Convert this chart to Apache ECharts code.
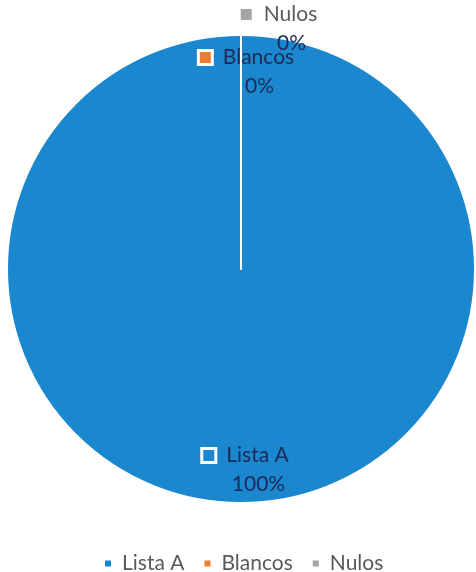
<!DOCTYPE html>
<html>
<head>
<meta charset="utf-8">
<script src="https://cdn.jsdelivr.net/npm/echarts@6/dist/echarts.min.js"></script>
<style>html,body{margin:0;padding:0;background:#fff;}#c{width:476px;height:572px;}</style>
</head>
<body>
<div id="c"></div>
<script>
var categories = ['Lista A', 'Blancos', 'Nulos'];
var values = [100, 0, 0];
var colors = ['#1b87cf', '#ed7d31', '#a5a5a5'];
var labelShift = [[5, 81], [6, -77], [38, -120]];
var nameColors = ['#1c2a55', '#1c2a55', '#5a5a5a'];
var pctColors = ['#1c2a55', '#1c2a55', '#1c2a55'];
var FONT = 'Lato';

var chart = echarts.init(document.getElementById('c'));
var data = categories.map(function (n, i) {
  return {
    name: n, value: values[i],
    itemStyle: { color: colors[i] },
    label: {
      rich: {
        sq: { width: 11, height: 11, backgroundColor: colors[i], borderColor: '#fff', borderWidth: 3 },
        name: { color: nameColors[i], fontSize: 21, fontFamily: FONT, padding: [0, 0, 0, 12] },
        pct: { color: pctColors[i], fontSize: 21, fontFamily: FONT, padding: [0, 0, 0, 25] }
      }
    }
  };
});
chart.setOption({
  animation: false,
  color: colors,
  legend: {
    top: 548, left: 98,
    icon: 'rect', itemWidth: 8, itemHeight: 8, itemGap: 18,
    textStyle: { color: '#595959', fontSize: 21, fontFamily: FONT, padding: [0, 0, 0, 5] },
    data: categories
  },
  series: [{
    type: 'pie',
    center: [241, 269],
    radius: [0, 234],
    startAngle: 90,
    clockwise: true,
    avoidLabelOverlap: false,
    itemStyle: { borderColor: '#fff', borderWidth: 2 },
    label: {
      show: true,
      position: 'inside',
      lineHeight: 29,
      formatter: function (p) { return '{sq|}{name|' + p.name + '}\n{pct|' + Math.round(p.percent) + '%}'; }
    },
    labelLine: { show: false },
    labelLayout: function (p) { var s = labelShift[p.dataIndex]; return { dx: s[0], dy: s[1] }; },
    data: data
  }]
});
</script>
</body>
</html>
